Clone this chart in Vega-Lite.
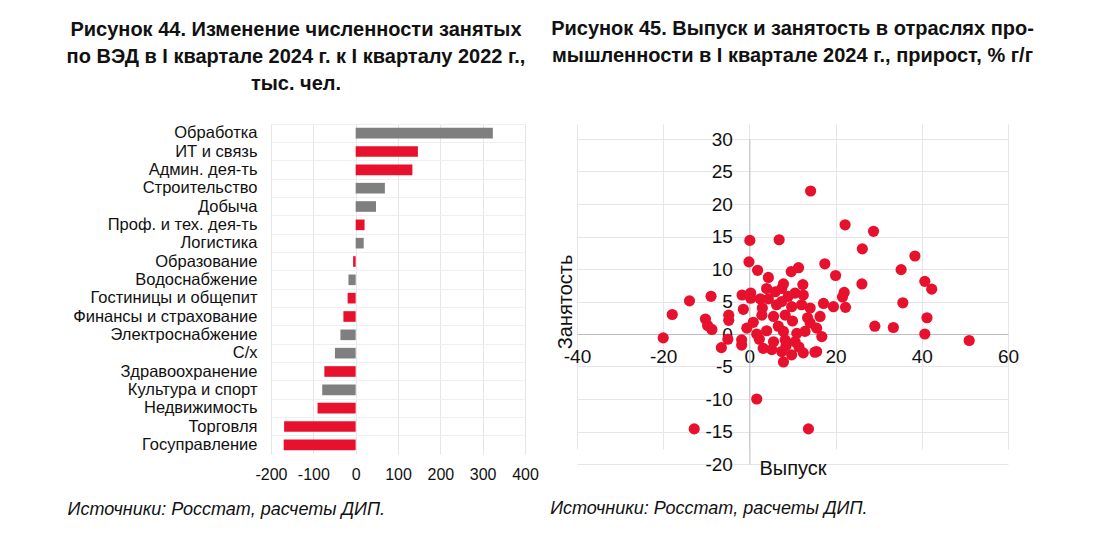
{
  "$schema": "https://vega.github.io/schema/vega-lite/v6.json",
  "padding": {"left": 66, "top": 19, "right": 0, "bottom": 0},
  "config": {
    "font": "Liberation Sans",
    "view": {"stroke": null},
    "concat": {"spacing": 11},
    "axis": {"labelColor": "#111", "titleColor": "#111", "gridColor": "#e6e6e6", "labelFont": "Liberation Sans", "titleFont": "Liberation Sans", "labelFlush": false}
  },
  "hconcat": [
    {
      "title": {"text": "Источники: Росстат, расчеты ДИП.", "orient": "bottom", "anchor": "start", "frame": "bounds", "fontStyle": "italic", "fontWeight": "normal", "fontSize": 18, "offset": 19, "dx": 1, "color": "#111"},
      "vconcat": [
        {
          "title": {
            "text": ["Рисунок 44. Изменение численности занятых", "по ВЭД в I квартале 2024 г. к I кварталу 2022 г.,", "тыс. чел."],
            "fontSize": 20, "fontWeight": "bold", "lineHeight": 27, "anchor": "middle", "frame": "group", "dx": -102, "offset": 30, "color": "#111"
          },
          "width": 254,
          "height": 330,
          "data": {
            "values": [
              {"cat": "Обработка", "val": 324, "grp": "A"},
              {"cat": "ИТ и связь", "val": 147, "grp": "B"},
              {"cat": "Админ. дея-ть", "val": 134, "grp": "B"},
              {"cat": "Строительство", "val": 69, "grp": "A"},
              {"cat": "Добыча", "val": 48, "grp": "A"},
              {"cat": "Проф. и тех. дея-ть", "val": 21, "grp": "B"},
              {"cat": "Логистика", "val": 19, "grp": "A"},
              {"cat": "Образование", "val": -6, "grp": "B"},
              {"cat": "Водоснабжение", "val": -17, "grp": "A"},
              {"cat": "Гостиницы и общепит", "val": -19, "grp": "B"},
              {"cat": "Финансы и страхование", "val": -29, "grp": "B"},
              {"cat": "Электроснабжение", "val": -36, "grp": "A"},
              {"cat": "С/х", "val": -49, "grp": "A"},
              {"cat": "Здравоохранение", "val": -74, "grp": "B"},
              {"cat": "Культура и спорт", "val": -79, "grp": "A"},
              {"cat": "Недвижимость", "val": -90, "grp": "B"},
              {"cat": "Торговля", "val": -169, "grp": "B"},
              {"cat": "Госуправление", "val": -170, "grp": "B"}
            ]
          },
          "mark": {"type": "bar", "height": {"band": 0.58}},
          "encoding": {
            "y": {
              "field": "cat", "type": "nominal", "sort": null, "title": null,
              "scale": {"paddingInner": 0, "paddingOuter": 0},
              "axis": {"labelFontSize": 16.5, "labelLimit": 260, "ticks": false, "domain": false, "labelPadding": 14, "grid": true, "bandPosition": 0, "gridColor": "#efefef"}
            },
            "x": {
              "field": "val", "type": "quantitative", "title": null,
              "scale": {"domain": [-200, 400], "nice": false},
              "axis": {"values": [-200, -100, 0, 100, 200, 300, 400], "labelExpr": "replace(datum.label, '−', '-')", "labelOverlap": false, "labelFontSize": 16, "domain": false, "ticks": false, "labelPadding": 12}
            },
            "color": {
              "field": "grp", "type": "nominal", "legend": null,
              "scale": {"domain": ["A", "B"], "range": ["#7f7f7f", "#e8112d"]}
            }
          }
        }
      ]
    },
    {
      "title": {"text": "Источники: Росстат, расчеты ДИП.", "orient": "bottom", "anchor": "start", "frame": "bounds", "fontStyle": "italic", "fontWeight": "normal", "fontSize": 18, "offset": 22, "dx": -1, "color": "#111"},
      "vconcat": [
        {
          "title": {
            "text": ["Рисунок 45. Выпуск и занятость в отраслях про-", "мышленности в I квартале 2024 г., прирост, % г/г"],
            "fontSize": 20, "fontWeight": "bold", "lineHeight": 27, "anchor": "middle", "frame": "group", "offset": 58, "color": "#111"
          },
          "width": 431,
          "height": 340,
          "data": {
            "values": [
              {"x": 14.2, "y": 22.0}, {"x": 22.2, "y": 16.8}, {"x": 0.1, "y": 14.4}, {"x": 6.9, "y": 14.5},
              {"x": 28.8, "y": 15.8}, {"x": 26.2, "y": 13.1}, {"x": 38.4, "y": 12.0}, {"x": 35.2, "y": 9.9},
              {"x": 26.1, "y": 7.7}, {"x": 22.0, "y": 6.4}, {"x": 21.6, "y": 5.7}, {"x": 40.7, "y": 8.1},
              {"x": 42.3, "y": 6.9}, {"x": 22.3, "y": 4.1}, {"x": 35.6, "y": 4.8}, {"x": 41.2, "y": 2.5},
              {"x": 29.1, "y": 1.2}, {"x": 33.4, "y": 1.0}, {"x": 40.7, "y": 0.0}, {"x": 51.0, "y": -1.0},
              {"x": 17.5, "y": 10.8}, {"x": 20.0, "y": 9.0}, {"x": 11.4, "y": 10.2}, {"x": 9.7, "y": 9.6},
              {"x": -0.1, "y": 11.1}, {"x": 1.9, "y": 9.8}, {"x": 4.4, "y": 8.7}, {"x": 7.9, "y": 7.7},
              {"x": 7.5, "y": 7.0}, {"x": 12.4, "y": 7.6}, {"x": 4.0, "y": 7.0}, {"x": 0.3, "y": 6.3},
              {"x": -1.7, "y": 6.0}, {"x": 0.3, "y": 5.5}, {"x": 10.6, "y": 6.3}, {"x": 12.5, "y": 6.0},
              {"x": 2.5, "y": 5.4}, {"x": 4.4, "y": 5.4}, {"x": 7.5, "y": 5.0}, {"x": 6.3, "y": 4.5},
              {"x": 9.8, "y": 4.2}, {"x": 12.1, "y": 4.5}, {"x": 14.1, "y": 4.0}, {"x": 17.2, "y": 4.7},
              {"x": 19.5, "y": 4.2}, {"x": -1.4, "y": 3.8}, {"x": 2.9, "y": 2.9}, {"x": 5.6, "y": 2.7},
              {"x": 8.3, "y": 2.9}, {"x": 16.4, "y": 2.7}, {"x": 0.9, "y": 1.8}, {"x": 14.1, "y": 1.7},
              {"x": -0.6, "y": 0.9}, {"x": 6.7, "y": 1.2}, {"x": 7.9, "y": 0.4}, {"x": 15.6, "y": 0.9},
              {"x": 1.7, "y": 0.0}, {"x": 11.0, "y": 0.1}, {"x": 12.9, "y": 0.4}, {"x": 16.8, "y": -0.4},
              {"x": -1.8, "y": -0.9}, {"x": 5.6, "y": -1.2}, {"x": 8.3, "y": -0.9}, {"x": 10.6, "y": -1.2},
              {"x": 3.2, "y": -2.2}, {"x": 5.2, "y": -2.4}, {"x": 7.5, "y": -2.7}, {"x": 9.8, "y": -3.2},
              {"x": 12.5, "y": -2.9}, {"x": 15.6, "y": -2.7}, {"x": 7.9, "y": -4.3}, {"x": -20.0, "y": -0.6},
              {"x": -17.9, "y": 3.0}, {"x": -13.9, "y": 5.1}, {"x": -8.9, "y": 5.8}, {"x": -10.2, "y": 2.3},
              {"x": -9.7, "y": 1.3}, {"x": -8.7, "y": 0.7}, {"x": -4.8, "y": 2.9}, {"x": -4.8, "y": 2.1},
              {"x": -6.5, "y": -2.1}, {"x": -5.0, "y": -0.8}, {"x": -1.8, "y": -1.7}, {"x": 1.7, "y": -10.0},
              {"x": -12.8, "y": -14.6}, {"x": 13.7, "y": -14.6}, {"x": 9.0, "y": 5.8}, {"x": 6.0, "y": 6.5},
              {"x": 10.0, "y": 2.0}, {"x": 4.0, "y": 0.5}, {"x": 11.5, "y": -2.0}, {"x": 3.0, "y": 4.0},
              {"x": 8.5, "y": -1.8}, {"x": 13.5, "y": 2.5}, {"x": 2.3, "y": -0.8}, {"x": 15.2, "y": -2.8}
            ]
          },
          "mark": {"type": "circle", "size": 125, "opacity": 1, "color": "#e8112d"},
          "encoding": {
            "x": {
              "field": "x", "type": "quantitative",
              "scale": {"domain": [-40, 60], "nice": false},
              "axis": {
                "title": "Выпуск", "offset": -130, "values": [-40, -20, 0, 20, 40, 60], "ticks": false,
                "labelExpr": "replace(datum.label, '−', '-')",
                "domainColor": "#bdbdbd", "labelFontSize": 19, "labelPadding": 13,
                "titleFontSize": 20, "titleFontWeight": "normal", "titleY": 134, "titleBaseline": "middle"
              }
            },
            "y": {
              "field": "y", "type": "quantitative",
              "scale": {"domain": [-20, 30], "nice": false, "range": [340, 15]},
              "axis": {
                "title": "Занятость", "offset": -172.4, "values": [-20, -15, -10, -5, 0, 5, 10, 15, 20, 25, 30], "ticks": false,
                "labelExpr": "replace(datum.label, '−', '-')",
                "domainColor": "#bdbdbd", "labelFontSize": 19, "labelPadding": 17,
                "titleFontSize": 20, "titleFontWeight": "normal", "titleX": -184.4, "titleBaseline": "middle"
              }
            }
          }
        }
      ]
    }
  ]
}
